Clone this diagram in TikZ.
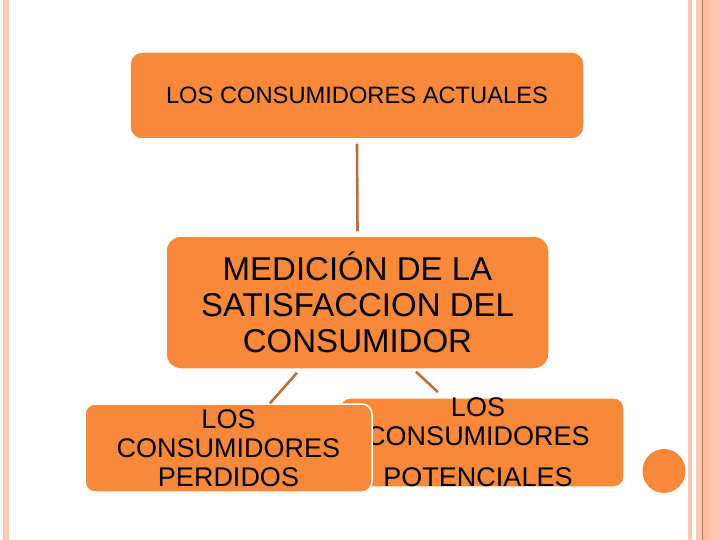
\documentclass[tikz,border=0pt]{standalone}
\usepackage{fontspec}
\setmainfont{Liberation Sans}
\usetikzlibrary{calc}

\definecolor{boxorange}{HTML}{F8883A}
\definecolor{linkbrown}{HTML}{BE6E3C}
\definecolor{stripepink}{HTML}{F9CBB6}
\definecolor{stripesalmon}{HTML}{FDC6B2}
\definecolor{stripedark}{HTML}{C8784E}

\begin{document}
\begin{tikzpicture}[x=1pt,y=-1pt,
  box/.style={draw=white,line width=1.5pt,fill=boxorange,inner sep=0pt,align=center},
  link/.style={draw=linkbrown,line width=2.6pt}]
 \useasboundingbox (0,0) rectangle (720,540);
 % page stripes
 \fill[stripepink] (3,0) rectangle (9,540);
 \fill[stripepink] (688,0) rectangle (692,540);
 \fill[stripepink] (696,0) rectangle (702,540);
 \fill[stripesalmon!90!orange] (703,0) rectangle (710,540);
 \fill[stripesalmon] (710,0) rectangle (720,540);
 \draw[stripedark,line width=1pt] (702.5,0) -- (702.5,540);
 % boxes
 \node[box,rounded corners=12pt,minimum width=454pt,minimum height=87pt,
   font=\fontsize{23.7}{26}\selectfont] (actuales) at (357,95.5)
   {LOS CONSUMIDORES ACTUALES};
 \node[box,rounded corners=15pt,minimum width=383pt,minimum height=133pt,
   font=\fontsize{33}{36}\selectfont] (medicion) at (357.5,302.5)
   {MEDICIÓN DE LA\\SATISFACCION DEL\\CONSUMIDOR};
 \node[box,rounded corners=10pt,minimum width=284pt,minimum height=87pt,
   font=\fontsize{27}{29}\selectfont] (potenciales) at (482,442.5)
   {\hspace*{-8pt}LOS\\\hspace*{-8pt}CONSUMIDORES\\[12pt]\hspace*{-8pt}POTENCIALES};
 \node[box,rounded corners=10pt,minimum width=287pt,minimum height=88pt,
   font=\fontsize{27}{29}\selectfont] (perdidos) at (228.5,448)
   {LOS\\CONSUMIDORES\\PERDIDOS};
 % links (yshift is on the page: minus goes down)
 \draw[link] ([yshift=-4pt]actuales.south) -- ([yshift=4pt]medicion.north);
 \draw[link] ([xshift=-60.5pt,yshift=-3pt]medicion.south) -- ([xshift=41.5pt]perdidos.north);
 \draw[link] ([xshift=58.5pt,yshift=-2pt]medicion.south) -- ([xshift=-44pt,yshift=5pt]potenciales.north);
 % dot
 \fill[boxorange] (664,471) ellipse (21.5 and 22);
\end{tikzpicture}
\end{document}
